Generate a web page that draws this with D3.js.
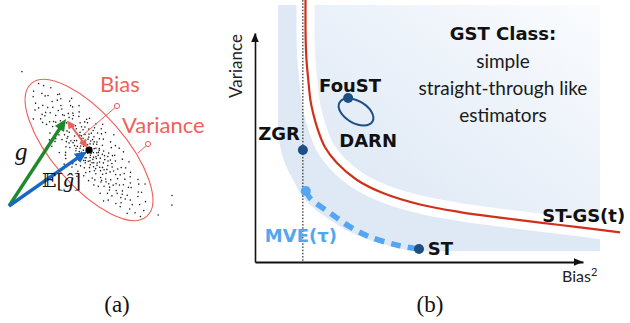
<!DOCTYPE html>
<html>
<head>
<meta charset="utf-8">
<script src="https://cdn.jsdelivr.net/npm/d3@7"></script>
<style>
  html, body { margin: 0; padding: 0; background: #fff; }
  svg { display: block; }
</style>
</head>
<body>
<svg id="fig" width="630" height="323"></svg>
<script>
// ---------------------------------------------------------------
// Panel (a): stochastic gradient samples, written in the principal
// axes (u = major, v = minor) of their covariance ellipse.
// ---------------------------------------------------------------
const samples = [
  [0.2,0.4],[-0.6,-0.3],[1.1,0.8],[-1.4,0.1],[0.7,-1.1],[-0.3,1.2],[1.7,-0.4],[-1.8,-0.9],[0.5,0.1],[-0.9,0.7],
  [1.3,-1.3],[-0.1,-1.4],[0.9,1.4],[-1.2,-0.5],[1.9,0.3],[-1.6,1.0],[0.3,-0.6],[-0.4,0.9],[1.5,1.1],[-0.7,-1.2],
  [0.0,0.6],[1.2,-0.1],[-1.9,0.4],[0.6,-0.2],[-1.0,1.3],[1.8,-1.0],[-0.2,-0.9],[0.8,0.5],[-1.5,-1.3],[0.4,1.0],
  [1.6,0.6],[-0.8,0.2],[0.1,-1.2],[-1.3,0.8],[1.0,-0.7],[-0.5,-0.6],[1.4,0.0],[-1.7,-0.2],[0.7,1.2],[-0.1,0.3],
  [2.3,0.9],[-2.4,-0.6],[2.7,-1.2],[-2.9,1.1],[3.1,0.2],[-3.3,-1.4],[2.1,1.7],[-2.2,1.9],[3.5,-0.8],[-3.6,0.5],
  [2.6,-2.0],[-2.7,-2.1],[3.9,1.3],[-4.1,-0.3],[4.3,-1.6],[-3.9,1.6],[2.9,0.6],[-2.5,0.2],[3.3,1.9],[-3.1,-2.3],
  [4.6,0.4],[-4.5,1.0],[4.9,-0.9],[-4.8,-1.5],[2.4,-0.3],[-2.0,-1.7],[3.7,2.4],[-3.8,2.2],[5.2,1.1],[-5.1,0.3],
  [5.5,-2.1],[-5.4,-2.0],[4.1,0.8],[-4.3,-1.0],[5.8,0.0],[-5.9,1.4],[6.2,1.6],[-6.1,-0.8],[6.5,-1.2],[-6.4,2.1],
  [2.0,2.6],[-1.9,-2.8],[1.0,-2.7],[-1.1,2.9],[0.3,2.4],[-0.5,-2.5],[6.9,0.5],[-7.0,-0.1],[7.3,-1.9],[-7.2,1.5],
  [7.6,1.3],[-7.7,-1.8],[8.1,0.2],[-8.0,0.7],[8.4,-0.8],[-8.5,-0.6],[8.9,1.0],[-8.8,1.2],[9.3,-0.3],[-9.2,-0.2],
  [5.0,2.5],[-5.0,-2.7],[4.4,-2.8],[-4.2,2.9],[6.0,2.8],[-6.3,-2.6],[3.0,-3.1],[-3.4,3.2],[7.8,-2.5],[-7.5,2.7],
  [9.7,0.8],[-9.8,-1.0],[10.2,-0.2],[-10.1,0.4],[1.5,3.3],[-1.3,-3.4],[0.6,-3.6],[-0.7,3.5],
  [0.9,-0.5],[-0.3,-0.1],[1.2,0.4],[-1.1,-0.8],[0.5,0.9],[-0.6,1.5],[1.7,1.4],[-1.4,-1.6],[2.2,-0.7],[-2.1,0.6],
  [0.1,1.8],[-0.2,-1.9],[2.5,0.4],[-2.6,-0.2],[1.9,-1.6],[-1.8,1.6],[3.0,-0.5],[-3.0,0.9],[2.8,1.3],[-2.8,-1.2],
  [3.4,0.7],[-3.5,-0.4],[0.4,-0.8],[-0.9,0.0],[1.3,1.9],[-1.5,-2.0],[2.0,0.0],[-2.3,1.3],[3.8,-0.2],[-3.7,0.0],
  [4.0,1.5],[-4.0,-1.8],[4.5,-0.5],[-4.6,0.4],[5.3,0.6],[-5.3,-0.5],[5.7,-1.0],[-5.6,1.0],[6.6,0.2],[-6.7,0.6],
  [7.1,0.9],[-7.3,-1.1],
  [0.8,2.1],[-0.9,-2.2],[1.6,-2.3],[-1.7,2.4],[2.4,1.2],[-2.4,-1.1],[3.2,-1.6],[-3.2,1.7],[3.6,0.3],[-3.4,-0.7],
  [4.2,2.1],[-4.4,-2.2],[4.8,0.9],[-4.7,-0.8],[5.1,-1.4],[-5.2,1.5],[5.6,1.8],[-5.7,-1.9],[6.1,-0.4],[-6.0,0.3],
  [6.4,0.9],[-6.5,-1.0],[6.8,-2.2],[-6.9,2.0],[7.4,0.1],[-7.4,0.4],[7.9,1.7],[-7.8,-1.6],[8.3,-1.5],[-8.2,1.8],
  [8.7,0.4],[-8.7,-0.3],[9.1,1.6],[-9.0,-1.5],[9.5,-1.1],[-9.6,0.9],[0.0,-0.4],[0.6,0.3],[-0.7,-0.9],[1.0,1.0],
  [-1.2,1.1],[1.5,-0.9],[-1.6,-0.4],[2.1,0.5],[-2.0,0.9],[2.6,-0.9],[-2.5,-1.5],[2.9,2.0],[-3.0,-1.9],[3.3,-0.1],
  [-3.3,0.4],[3.6,-2.4],[-3.6,2.5],[4.0,-0.6],[-4.1,0.7],[4.4,1.0],[-4.4,-0.1],[4.7,-2.0],[-4.8,2.3],[5.4,0.2],
  [-5.5,-0.4],[5.9,-1.7],[-5.9,1.9],[6.3,2.3],[-6.2,-2.2],[7.0,-0.9],[-7.1,1.0],[7.6,0.6],[-7.6,-0.5],[8.0,-1.2],
  [-8.1,1.3],[0.2,3.0],[-0.3,-3.0],[1.1,2.8],[-1.0,-2.9],[10.5,0.6],[-10.4,-0.7],[2.3,-3.0],[-2.2,3.0],
  [0.35,-0.15],[-0.45,0.55],[1.45,0.75],[-1.25,-1.05],[0.65,-1.65],[-0.15,2.05],[2.15,-1.25],[-2.35,0.95],
  [1.05,0.15],[-0.85,-1.55],[2.75,0.15],[-2.65,1.45],[3.15,-1.05],[-3.05,-0.55],[1.85,2.15],[-1.65,-2.35],
  [0.55,1.35],[-0.35,-1.15],[2.45,-1.75],[-2.15,-0.35],[3.55,1.15],[-3.45,1.05],[4.15,-1.15],[-4.25,1.35],
  [4.65,1.55],[-4.55,-1.35],[5.05,-0.35],[-5.15,-1.05],[5.45,1.35],[-5.35,0.85],[6.05,0.75],[-6.25,-0.35],
  [6.75,-0.65],[-6.85,1.35],[7.25,1.85],[-7.15,-1.55],[1.75,-2.85],[-1.45,2.65],[2.85,2.55],[-2.95,-2.65],
  [0.15,-2.25],[-0.05,2.65],[1.25,-0.45],[-1.05,0.45],[0.85,-0.95],[-0.65,1.05],[1.95,0.95],[-1.95,-0.45],
  [12.0,-3.3],[11.1,-4.1],[11.8,-1.2],[-12.9,-0.1]
];
const ellipseSemiAxes = [11, 4.5];   // covariance ellipse, (u, v) units
const ellipseTilt = 49;              // major axis direction on the page, degrees

// Gradient vectors in the plane of panel (a)
const origin   = [-10, -7];
const trueGrad = [-2.875, 3.875];    // g
const meanGrad = [0, 0];             // E[ĝ]

// Callout anchors and labels
const biasCallout     = { from: [-0.75, 1.875], to: [3.5, 5.5] };
const varianceCallout = { from: [6.125, -0.375], to: [7.375, 0.75] };
const panelALabels = [
  { text: "Bias",     at: [1.375, 7.25] },
  { text: "Variance", at: [4.125, 2.125] }
];

// ---------------------------------------------------------------
// Panel (b): bias² / variance trade-off of the estimators
// ---------------------------------------------------------------
const stgsCurve = [
  [15.4,114.4],[15.45,96.9],[15.7,88.2],[16.25,79.5],[16.9,70.7],[17.7,65.1],[19.2,57.6],[21.3,50.2],
  [25.0,43.2],[31.1,35.8],[39.0,30.1],[50.3,25.1],[62.5,21.8],[74.7,19.4],[86.9,17.2],[99.1,15.1],[111.3,12.9]
];
const reachableEdge = [
  [7.0,112.2],[7.0,59.8],[7.6,51.1],[9.1,43.2],[11.6,35.8],[14.6,28.4],[18.3,23.1],[22.9,18.3],
  [29.0,13.1],[35.1,9.6],[41.2,7.0],[48.2,5.0],[105.2,4.8]
];
const planeTop = 112.2, planeRight = 105.2;
const mveCurve = [[15.5,31.0],[16.8,27.9],[22.9,21.4],[29.0,15.3],[35.1,10.9],[43.3,7.4],[49.7,5.7]];
const zgrBias = 14.6;

const estimators = [
  { name: "ZGR",   at: [14.6, 48.9], label: [13.7, 53.3], anchor: "end" },
  { name: "FouST", at: [28.4, 71.6], label: [29.0, 74.2], anchor: "middle" },
  { name: "ST",    at: [50.0, 5.7],  label: [52.7, 3.1],  anchor: "start" }
];
const darnLoop = { center: [30.8, 65.5], radii: [5.8, 3.35], tilt: 30 };
const curveLabels = [
  { text: "DARN",     at: [34.5, 50.4], anchor: "middle", color: "#111" },
  { text: "MVE(τ)",   at: [3.0, 8.7],   anchor: "start",  color: "#55a6f2" },
  { text: "ST-GS(t)", at: [87.6, 17.5], anchor: "start",  color: "#111" }
];
const classTitle = "GST Class:";
const classLines = ["simple", "straight-through like", "estimators"];
const classAt = [75.6, 96.9];
const classLineYs = [84.7, 72.9, 61.1];

// ---------------------------------------------------------------
const svg = d3.select("#fig");
svg.append("rect").attr("width", 630).attr("height", 323).attr("fill", "#fff");

const salmon = "#ef5f5a", darkBlue = "#1c4f86", lightBlue = "#55a6f2";
const bold = "'DejaVu Sans', sans-serif";
const sans = "Lato, 'Open Sans', sans-serif";
const serif = "'Liberation Serif', 'DejaVu Serif', serif";

// ---------- panel (a) ----------
const xA = d3.scaleLinear().domain([-10, 10]).range([9, 169]);
const yA = d3.scaleLinear().domain([-10, 10]).range([230, 70]);
const uA = d3.scaleLinear().domain([-10, 10]).range([-80, 80]);
const pA = d => [xA(d[0]), yA(d[1])];

const gA = svg.append("g");
const frame = gA.append("g")
  .attr("transform", `translate(${xA(meanGrad[0])},${yA(meanGrad[1])}) rotate(${ellipseTilt})`);

frame.selectAll("circle.s").data(samples).join("circle")
  .attr("class", "s")
  .attr("cx", d => uA(d[0])).attr("cy", d => uA(d[1]))
  .attr("r", 0.75).attr("fill", "#1a1a1a");

frame.append("ellipse")
  .attr("cx", 0).attr("cy", 0)
  .attr("rx", uA(ellipseSemiAxes[0]) - uA(0))
  .attr("ry", uA(ellipseSemiAxes[1]) - uA(0))
  .attr("fill", "none").attr("stroke", salmon).attr("stroke-width", 1.1);

function arrow(g, a, b, color, width, headLen, headHalf, opts = {}) {
  const [x0, y0] = a, [x1, y1] = b;
  const dx = x1 - x0, dy = y1 - y0, L = Math.hypot(dx, dy);
  const ux = dx / L, uy = dy / L, nx = -uy, ny = ux;
  const s = opts.trimStart || 0, e = opts.trimEnd || 0;
  const sx = x0 + ux * s, sy = y0 + uy * s;
  const tx = x1 - ux * e, ty = y1 - uy * e;
  const head = (px, py, dirx, diry) => {
    const bx = px - dirx * headLen, by = py - diry * headLen;
    return `M${px},${py}L${bx + nx * headHalf},${by + ny * headHalf}L${bx - nx * headHalf},${by - ny * headHalf}Z`;
  };
  const ls = opts.double ? headLen * 0.8 : 0;
  g.append("line")
    .attr("x1", sx + ux * ls).attr("y1", sy + uy * ls)
    .attr("x2", tx - ux * headLen * 0.8).attr("y2", ty - uy * headLen * 0.8)
    .attr("stroke", color).attr("stroke-width", width);
  g.append("path").attr("d", head(tx, ty, ux, uy)).attr("fill", color);
  if (opts.double) g.append("path").attr("d", head(sx, sy, -ux, -uy)).attr("fill", color);
}

arrow(gA, pA(origin), pA(trueGrad), "#1e8a2c", 3.4, 12, 5.5);
arrow(gA, pA(origin), pA(meanGrad), "#1769c4", 3.4, 12, 5.5, { trimEnd: 2.5 });
arrow(gA, pA(trueGrad), pA(meanGrad), salmon, 2, 8, 4, { double: true, trimStart: 2, trimEnd: 3 });

gA.append("circle").attr("cx", xA(meanGrad[0])).attr("cy", yA(meanGrad[1])).attr("r", 3.6).attr("fill", "#000");

[biasCallout, varianceCallout].forEach(c => {
  gA.append("line")
    .attr("x1", xA(c.from[0])).attr("y1", yA(c.from[1]))
    .attr("x2", xA(c.to[0])).attr("y2", yA(c.to[1]))
    .attr("stroke", salmon).attr("stroke-width", 1);
  gA.append("circle").attr("cx", xA(c.to[0])).attr("cy", yA(c.to[1])).attr("r", 2.6)
    .attr("fill", "#fff").attr("stroke", salmon).attr("stroke-width", 1);
});

gA.selectAll("text.lab").data(panelALabels).join("text")
  .attr("class", "lab")
  .attr("x", d => xA(d.at[0])).attr("y", d => yA(d.at[1]))
  .attr("font-family", sans).attr("font-size", 22).attr("fill", salmon)
  .text(d => d.text);

gA.append("text").attr("x", xA(-9.25)).attr("y", yA(-1.25))
  .attr("font-family", serif).attr("font-style", "italic").attr("font-size", 25).attr("fill", "#111")
  .text("g");
const eg = gA.append("text").attr("x", xA(-5.875)).attr("y", yA(-4.625))
  .attr("font-family", serif).attr("font-size", 21).attr("fill", "#111");
eg.append("tspan").attr("font-family", "'DejaVu Serif', 'DejaVu Sans', serif").attr("font-size", 19).text("𝔼");
eg.append("tspan").text("[");
eg.append("tspan").attr("font-style", "italic").text("ĝ");
eg.append("tspan").text("]");

// ---------- panel (b) ----------
const xB = d3.scaleLinear().domain([0, 100]).range([255, 583]);
const yB = d3.scaleLinear().domain([0, 100]).range([262, 33]);
const smooth = d3.line().x(d => xB(d[0])).y(d => yB(d[1])).curve(d3.curveCatmullRom.alpha(0.5));

const defs = svg.append("defs");
const grad = defs.append("linearGradient").attr("id", "gstFill")
  .attr("x1", "0").attr("y1", "1").attr("x2", "1").attr("y2", "0");
grad.append("stop").attr("offset", "0%").attr("stop-color", "#d9e5f3");
grad.append("stop").attr("offset", "100%").attr("stop-color", "#fcfdff");
defs.append("clipPath").attr("id", "plane").append("rect")
  .attr("x", xB(reachableEdge[0][0])).attr("y", yB(planeTop))
  .attr("width", xB(planeRight) - xB(reachableEdge[0][0]))
  .attr("height", yB(reachableEdge[reachableEdge.length - 1][1]) - yB(planeTop));

const gB = svg.append("g");
const shade = gB.append("g").attr("clip-path", "url(#plane)");
shade.append("path")
  .attr("d", smooth(reachableEdge) + `L${xB(planeRight)},${yB(planeTop)}Z`)
  .attr("fill", "#dfe9f5");
shade.append("path")
  .attr("d", smooth(stgsCurve) + `L${xB(stgsCurve[stgsCurve.length - 1][0])},${yB(planeTop)}Z`)
  .attr("fill", "url(#gstFill)");

gB.append("path").attr("d", smooth(stgsCurve)).attr("fill", "none")
  .attr("stroke", "#fff").attr("stroke-width", 18);
gB.append("path").attr("d", smooth(stgsCurve)).attr("fill", "none")
  .attr("stroke", "#d0301a").attr("stroke-width", 2.2);

// axes (no ticks) with arrowheads
const axX = gB.append("g").attr("transform", `translate(0,${yB(0)})`)
  .call(d3.axisBottom(xB).tickValues([]).tickSizeOuter(0));
const axY = gB.append("g").attr("transform", `translate(${xB(0)},0)`)
  .call(d3.axisLeft(yB).tickValues([]).tickSizeOuter(0));
axX.select(".domain").attr("stroke", "#111").attr("stroke-width", 2);
axY.select(".domain").attr("stroke", "#111").attr("stroke-width", 1.6);
gB.append("path").attr("fill", "#111")
  .attr("d", `M${xB(100)},${yB(0)}l-9,-3.8l0,7.6Z`);
gB.append("path").attr("fill", "#111")
  .attr("d", `M${xB(0)},${yB(100)}l-3.8,9l7.6,0Z`);

// ZGR bias level
gB.append("line")
  .attr("x1", xB(zgrBias)).attr("x2", xB(zgrBias))
  .attr("y1", yB(planeTop + 2.2)).attr("y2", yB(0))
  .attr("stroke", "#111").attr("stroke-width", 1).attr("stroke-dasharray", "1.6,1.6");

// MVE(τ) family
gB.append("path").attr("d", smooth(mveCurve)).attr("fill", "none")
  .attr("stroke", lightBlue).attr("stroke-width", 5.5).attr("stroke-dasharray", "10,7");
gB.append("circle").attr("cx", xB(mveCurve[0][0])).attr("cy", yB(mveCurve[0][1])).attr("r", 5).attr("fill", lightBlue);

// DARN loop around FouST
gB.append("ellipse")
  .attr("transform", `translate(${xB(darnLoop.center[0])},${yB(darnLoop.center[1])}) rotate(${darnLoop.tilt})`)
  .attr("rx", xB(darnLoop.radii[0]) - xB(0)).attr("ry", xB(darnLoop.radii[1]) - xB(0))
  .attr("fill", "none").attr("stroke", darkBlue).attr("stroke-width", 2);

gB.selectAll("circle.est").data(estimators).join("circle")
  .attr("class", "est")
  .attr("cx", d => xB(d.at[0])).attr("cy", d => yB(d.at[1]))
  .attr("r", 5).attr("fill", darkBlue);

gB.selectAll("text.est").data(estimators).join("text")
  .attr("class", "est")
  .attr("x", d => xB(d.label[0])).attr("y", d => yB(d.label[1]))
  .attr("text-anchor", d => d.anchor)
  .attr("font-family", bold).attr("font-weight", "bold").attr("font-size", 18).attr("fill", "#111")
  .text(d => d.name);

gB.selectAll("text.cl").data(curveLabels).join("text")
  .attr("class", "cl")
  .attr("x", d => xB(d.at[0])).attr("y", d => yB(d.at[1]))
  .attr("text-anchor", d => d.anchor)
  .attr("font-family", bold).attr("font-weight", "bold").attr("font-size", 18).attr("fill", d => d.color)
  .text(d => d.text);

gB.append("text").attr("x", xB(classAt[0])).attr("y", yB(classAt[1]))
  .attr("text-anchor", "middle").attr("font-family", bold).attr("font-weight", "bold")
  .attr("font-size", 18).attr("fill", "#111").text(classTitle);
gB.selectAll("text.cls").data(classLines).join("text")
  .attr("class", "cls")
  .attr("x", xB(classAt[0])).attr("y", (d, i) => yB(classLineYs[i]))
  .attr("text-anchor", "middle").attr("font-family", sans).attr("font-size", 19).attr("fill", "#1a1a1a")
  .text(d => d);

// axis titles
gB.append("text")
  .attr("transform", `translate(${xB(0) - 13},${yB(85.6)}) rotate(-90)`)
  .attr("text-anchor", "middle").attr("font-family", sans).attr("font-size", 17).attr("fill", "#222")
  .text("Variance");
const bx = gB.append("text").attr("x", xB(93.6)).attr("y", yB(0) + 20)
  .attr("font-family", sans).attr("font-size", 16).attr("fill", "#222");
bx.append("tspan").text("Bias");
bx.append("tspan").attr("font-size", 11).attr("dy", -6).text("2");

// sub-figure captions
svg.append("text").attr("x", 117).attr("y", 312).attr("text-anchor", "middle")
  .attr("font-family", serif).attr("font-size", 23).attr("fill", "#111").text("(a)");
svg.append("text").attr("x", 430).attr("y", 312).attr("text-anchor", "middle")
  .attr("font-family", serif).attr("font-size", 23).attr("fill", "#111").text("(b)");
</script>
</body>
</html>
